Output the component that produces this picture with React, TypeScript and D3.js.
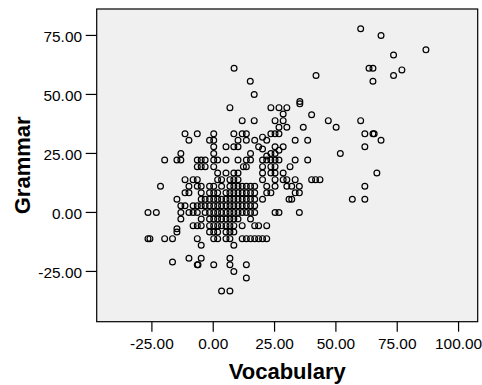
import React from 'react';
import * as d3 from 'd3';

// [vocabulary, grammar]
type Pt = [number, number];

const highPoints: Pt[] = [
  [60.1, 77.8], [68.4, 75.0], [86.7, 68.9], [73.5, 66.7], [63.5, 61.1], [65.1, 61.1],
  [76.9, 60.4], [8.5, 61.1], [73.5, 58.0], [41.9, 58.0], [15.1, 55.6], [65.1, 55.6],
  [16.7, 50.0], [35.3, 47.0], [35.3, 46.0], [6.8, 44.4], [23.5, 44.4], [26.8, 44.4],
  [30.0, 44.4], [28.5, 41.7], [40.1, 41.4], [11.8, 38.9], [16.7, 38.9], [25.2, 38.9],
  [28.5, 38.9], [46.9, 38.9], [60.1, 38.9], [26.8, 36.1], [30.0, 36.1], [36.7, 36.1],
  [50.1, 36.1],
];

const midPoints: Pt[] = [
  [-11.5, 33.3], [-6.5, 33.3], [0.2, 33.3], [8.4, 33.3], [11.8, 33.3], [13.5, 33.3],
  [23.5, 33.3], [25.2, 33.3], [26.8, 33.3], [61.8, 33.3], [65.1, 33.3], [65.6, 33.3],
  [20.1, 31.9],
  [-9.9, 30.6], [-1.5, 30.6], [0.2, 30.6], [10.1, 30.6], [13.5, 30.6], [16.9, 30.6],
  [21.8, 30.6], [33.4, 30.6], [38.5, 30.6], [68.4, 30.6],
  [0.2, 27.8], [5.2, 27.8], [8.4, 27.8], [10.1, 27.8], [18.5, 27.8], [25.2, 27.8],
  [28.5, 27.8], [61.8, 27.8], [20.1, 26.9],
  [-13.2, 25.0], [0.2, 25.0], [15.2, 25.0], [23.5, 25.0], [25.2, 25.0], [51.8, 25.0],
  [21.8, 23.9], [26.8, 26.4],
  [-19.8, 22.2], [-14.8, 22.2], [-13.2, 22.2], [-6.5, 22.2], [-4.9, 22.2], [-3.3, 22.2],
  [0.2, 22.2], [1.8, 22.2], [5.2, 22.2], [10.1, 22.2], [13.5, 22.2], [15.2, 22.2],
  [20.1, 22.2], [21.8, 22.2], [23.5, 22.2], [25.2, 22.2], [26.8, 22.2], [33.4, 22.2],
  [38.5, 22.2],
  [-6.5, 19.4], [-4.9, 19.4], [-3.3, 19.4], [0.2, 19.4], [12.3, 19.4], [13.5, 19.4],
  [20.1, 19.4], [23.5, 19.4], [25.2, 19.4], [31.3, 19.4],
  [1.8, 16.7], [5.2, 16.7], [8.4, 16.7], [10.1, 16.7], [20.1, 16.7], [23.5, 16.7],
  [25.2, 16.7], [28.5, 16.7], [66.7, 16.7],
  [-11.5, 13.9], [-8.2, 13.9], [-6.5, 13.9], [1.8, 13.9], [3.4, 13.9], [6.8, 13.9],
  [8.4, 13.9], [10.1, 13.9], [20.1, 13.9], [25.2, 13.9], [28.5, 13.9], [30.0, 13.9],
  [33.4, 13.9], [40.1, 13.9], [41.7, 13.9], [43.5, 13.9],
  [-21.5, 11.1], [-9.9, 11.1], [-6.5, 11.1], [-4.9, 11.1], [-1.5, 11.1], [0.2, 11.1],
  [3.4, 11.1], [6.8, 11.1], [8.4, 11.1], [10.1, 11.1], [11.8, 11.1], [13.5, 11.1],
  [15.2, 11.1], [16.9, 11.1], [21.8, 11.1], [25.2, 11.1], [30.0, 11.1], [32.0, 11.1],
  [35.1, 11.1], [61.8, 11.1],
  [-11.5, 8.3], [-9.9, 8.3], [-4.9, 8.3], [-1.5, 8.3], [0.2, 8.3], [1.8, 8.3],
  [5.2, 8.3], [6.8, 8.3], [8.4, 8.3], [10.1, 8.3], [11.8, 8.3], [13.5, 8.3],
  [15.2, 8.3], [16.9, 8.3], [21.8, 8.3], [23.5, 8.3], [33.4, 8.3], [35.1, 8.3],
  [-14.8, 5.6], [-4.9, 5.6], [-3.3, 5.6], [-1.5, 5.6], [0.2, 5.6], [1.8, 5.6],
  [3.4, 5.6], [5.2, 5.6], [6.8, 5.6], [8.4, 5.6], [10.1, 5.6], [11.8, 5.6],
  [13.5, 5.6], [15.2, 5.6], [16.9, 5.6], [20.1, 5.6], [30.9, 5.6], [32.0, 5.6],
  [56.7, 5.6], [61.8, 5.6],
  [-13.2, 2.8], [-11.5, 2.8], [-8.2, 2.8], [-6.5, 2.8], [-4.9, 2.8], [-3.3, 2.8],
  [-1.5, 2.8], [0.2, 2.8], [1.8, 2.8], [3.4, 2.8], [5.2, 2.8], [6.8, 2.8], [8.4, 2.8],
  [10.1, 2.8], [11.8, 2.8], [13.5, 2.8], [15.2, 2.8], [16.9, 2.8],
  [-26.6, 0], [-23.2, 0], [-13.2, 0], [-9.9, 0], [-8.2, 0], [-6.5, 0], [-3.3, 0],
  [-1.5, 0], [0.2, 0], [1.8, 0], [3.4, 0], [5.2, 0], [6.8, 0], [8.4, 0], [10.1, 0],
  [11.8, 0], [13.5, 0], [15.2, 0], [16.9, 0], [25.2, 0], [26.8, 0], [35.1, 0],
];

const lowPoints: Pt[] = [
  [-13.2, -2.8], [-4.9, -2.8], [-1.5, -2.8], [0.2, -2.8], [1.8, -2.8], [3.4, -2.8],
  [5.2, -2.8], [6.8, -2.8], [8.4, -2.8], [10.1, -2.8], [15.2, -2.8],
  [-8.2, -5.6], [-6.5, -5.6], [-4.9, -5.6], [-1.5, -5.6], [0.2, -5.6], [1.8, -5.6],
  [3.4, -5.6], [5.2, -5.6], [6.8, -5.6], [8.4, -5.6], [11.8, -5.6], [16.9, -5.6],
  [18.5, -5.6], [21.8, -5.6], [-14.8, -6.9],
  [-14.8, -8.3], [-1.5, -8.3], [0.2, -8.3], [1.8, -8.3], [5.2, -8.3], [6.8, -8.3],
  [8.4, -8.3],
  [-26.6, -11.1], [-25.8, -11.1], [-19.8, -11.1], [-16.6, -11.1], [-6.5, -11.1],
  [0.2, -11.1], [1.8, -11.1], [5.2, -11.1], [6.8, -11.1], [11.8, -11.1], [13.5, -11.1],
  [15.2, -11.1], [16.9, -11.1], [18.5, -11.1], [20.1, -11.1], [21.8, -11.1],
  [-4.9, -13.9], [8.4, -13.9],
  [-9.9, -19.4], [-4.9, -19.4], [6.8, -19.4], [-16.6, -21.0],
  [-6.5, -22.2], [-6.2, -22.2], [0.2, -22.2], [6.8, -22.2], [13.5, -22.2],
  [8.4, -25.0], [13.5, -27.8], [3.4, -33.3], [6.8, -33.3],
];

const xTicks = [-25, 0, 25, 50, 75, 100];
const yTicks = [-25, 0, 25, 50, 75];
const xTitle = 'Vocabulary';
const yTitle = 'Grammar';

const W = 482;
const H = 385;
const plot = { left: 96.7, right: 477.7, top: 9, bottom: 321.7 };
const font = '"Liberation Sans", Arial, sans-serif';

// SPSS prints a plain hyphen, not the unicode minus d3 uses
const fmt = (v: number) => d3.format('.2f')(v).replace('\u2212', '-');

export default function App() {
  const x = d3.scaleLinear().domain([-47.5, 107.8]).range([plot.left, plot.right]);
  const y = d3.scaleLinear().domain([-46.3, 86.2]).range([plot.bottom, plot.top]);
  const points = [...highPoints, ...midPoints, ...lowPoints];

  return (
    <svg
      width={W}
      height={H}
      style={{ position: 'absolute', left: 0, top: 0, background: '#fff' }}
      fontFamily={font}
    >
      <rect
        x={plot.left}
        y={plot.top}
        width={plot.right - plot.left}
        height={plot.bottom - plot.top}
        fill="#f0f0f0"
        stroke="#000"
        strokeWidth={1.2}
      />

      {/* x axis */}
      {xTicks.map(t => (
        <g key={'x' + t}>
          <line x1={x(t)} x2={x(t)} y1={plot.bottom} y2={plot.bottom + 10} stroke="#000" strokeWidth={1.2} />
          <text x={x(t)} y={349} textAnchor="middle" fontSize={15.4} fill="#000">{fmt(t)}</text>
        </g>
      ))}

      {/* y axis */}
      {yTicks.map(t => (
        <g key={'y' + t}>
          <line x1={plot.left - 11} x2={plot.left} y1={y(t)} y2={y(t)} stroke="#000" strokeWidth={1.2} />
          <text x={82} y={y(t) + 6.5} textAnchor="end" fontSize={15.4} fill="#000">{fmt(t)}</text>
        </g>
      ))}

      <text x={(plot.left + plot.right) / 2} y={379} textAnchor="middle" fontSize={22} fontWeight="bold" fill="#000">
        {xTitle}
      </text>
      <text
        transform={`translate(29.5, ${(plot.top + plot.bottom) / 2}) rotate(-90)`}
        textAnchor="middle"
        fontSize={22}
        fontWeight="bold"
        fill="#000"
      >
        {yTitle}
      </text>

      {points.map((p, i) => (
        <circle key={i} cx={x(p[0])} cy={y(p[1])} r={2.9} fill="none" stroke="#000" strokeWidth={1.2} />
      ))}
    </svg>
  );
}
